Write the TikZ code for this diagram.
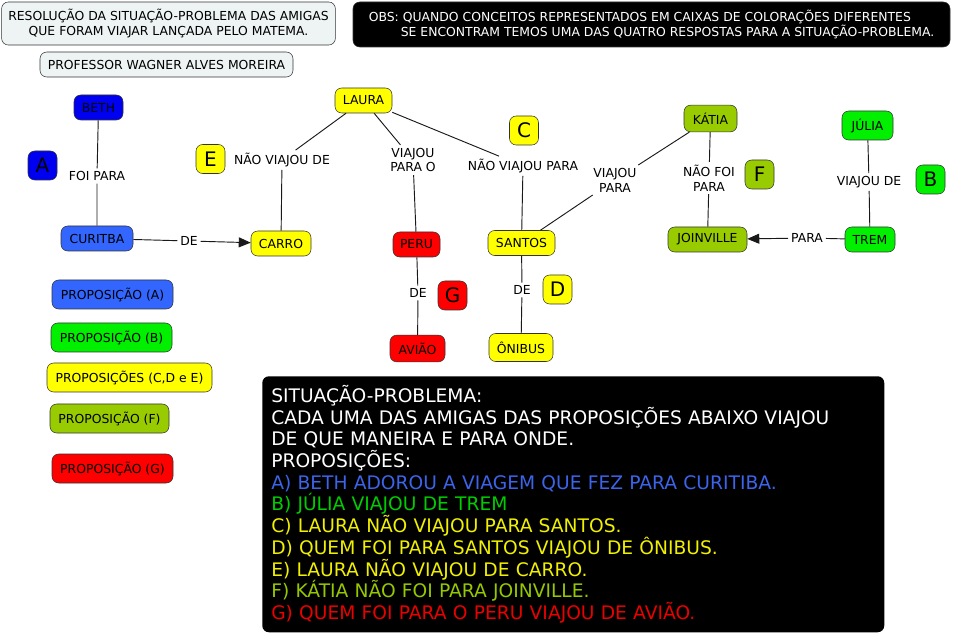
\documentclass[tikz,border=0pt]{standalone}
\usepackage{fontspec}
\setmainfont{DejaVu Sans}
\usetikzlibrary{arrows.meta, positioning}
\definecolor{azul}{RGB}{0,0,240}
\definecolor{azulclaro}{RGB}{51,102,255}
\definecolor{amarelo}{RGB}{255,255,0}
\definecolor{vermelho}{RGB}{255,0,0}
\definecolor{verde}{RGB}{0,240,0}
\definecolor{oliva}{RGB}{153,204,0}
\definecolor{cinza}{RGB}{238,244,244}
\definecolor{txtazul}{RGB}{60,100,235}
\definecolor{txtverde}{RGB}{0,205,0}
\definecolor{txtamarelo}{RGB}{240,240,0}
\definecolor{txtoliva}{RGB}{150,200,0}
\definecolor{txtvermelho}{RGB}{235,0,0}

\begin{document}
\begin{tikzpicture}[x=0.75pt,y=-0.75pt,
  caixa/.style={draw=black!80, rounded corners=5pt, minimum height=18.75pt, inner xsep=5pt, inner ysep=0pt, font=\fontsize{9.3}{11.2}\selectfont},
  letra/.style={caixa, minimum width=21.75pt, minimum height=21.75pt, inner sep=0pt, font=\fontsize{15}{16}\selectfont},
  legenda/.style={caixa, minimum height=21.75pt},
  rotulo/.style={font=\fontsize{9.3}{11.2}\selectfont, align=center, inner sep=2pt},
  ligacao/.style={draw=black!90, line width=0.7pt},
  seta/.style={ligacao, -{Triangle[length=9pt,width=7.5pt]}}]
\useasboundingbox (0,0) rectangle (953,634);

% cabecalho
\node[caixa, fill=cinza, align=center, minimum width=249.75pt, minimum height=32.25pt] (titulo) at (168.5,23.5)
  {RESOLUÇÃO DA SITUAÇÃO-PROBLEMA DAS AMIGAS\\QUE FORAM VIAJAR LANÇADA PELO MATEMA.};
\node[caixa, fill=cinza, minimum width=189.75pt] (prof) at (166.5,64.5) {PROFESSOR WAGNER ALVES MOREIRA};
\node[caixa, fill=black, text=white, align=left, minimum width=447.75pt, minimum height=33.75pt] (obs) at (651.5,24.5)
  {OBS: QUANDO CONCEITOS REPRESENTADOS EM CAIXAS DE COLORAÇÕES DIFERENTES\\
   \hspace*{24pt}SE ENCONTRAM TEMOS UMA DAS QUATRO RESPOSTAS PARA A SITUAÇÃO-PROBLEMA.};

% conceitos
\node[caixa, fill=azul, minimum width=36.75pt] (beth) at (98.5,107.5) {BETH};
\node[caixa, fill=azulclaro, minimum width=54pt] (curitiba) at (97,238.5) {CURITBA};
\node[caixa, fill=amarelo, minimum width=45pt] (carro) at (281,243.5) {CARRO};
\node[caixa, fill=amarelo, minimum width=42.75pt] (laura) at (363.5,100.5) {LAURA};
\node[caixa, fill=vermelho, minimum width=35.25pt] (peru) at (416.5,244.5) {PERU};
\node[caixa, fill=vermelho, minimum width=41.25pt, minimum height=20pt] (aviao) at (417.5,348.5) {AVIÃO};
\node[caixa, fill=amarelo, minimum width=50.25pt] (santos) at (521.5,243) {SANTOS};
\node[caixa, fill=amarelo, minimum width=48pt, minimum height=21pt] (onibus) at (521,347.5) {ÔNIBUS};
\node[caixa, fill=oliva, minimum width=39.75pt, minimum height=20pt] (katia) at (710.5,118.5) {KÁTIA};
\node[caixa, fill=oliva, minimum width=59.25pt] (joinville) at (707.5,239.5) {JOINVILLE};
\node[caixa, fill=verde, minimum width=37.5pt] (trem) at (870,239.5) {TREM};
\node[caixa, fill=verde, minimum width=38.25pt, minimum height=21.75pt] (julia) at (867.5,125.5) {JÚLIA};

% rotulos das ligacoes
\node[rotulo] (foipara) at (97,176) {FOI PARA};
\node[rotulo] (de1) at (189,241) {DE};
\node[rotulo] (naoviajoude) at (282,160) {NÃO VIAJOU DE};
\node[rotulo] (viajouparao) at (413,160) {VIAJOU\\PARA O};
\node[rotulo] (de2) at (418,293) {DE};
\node[rotulo] (naoviajoupara) at (523,166) {NÃO VIAJOU PARA};
\node[rotulo] (de3) at (522,290) {DE};
\node[rotulo] (viajoupara) at (615,180) {VIAJOU\\PARA};
\node[rotulo] (naofoipara) at (709,178) {NÃO FOI\\PARA};
\node[rotulo] (viajoude) at (869,182) {VIAJOU DE};
\node[rotulo] (para) at (807,238) {PARA};

% ligacoes
\draw[ligacao] (beth) -- (foipara) -- (curitiba);
\draw[seta] (curitiba) -- (de1) -- (carro);
\draw[ligacao] (laura) -- (naoviajoude) -- (carro);
\draw[ligacao] (laura) -- (viajouparao) -- (peru);
\draw[ligacao] (laura) -- (naoviajoupara) -- (santos);
\draw[ligacao] (peru) -- (de2) -- (aviao);
\draw[ligacao] (santos) -- (de3) -- (onibus);
\draw[ligacao] (santos) -- (viajoupara) -- (katia);
\draw[ligacao] (katia) -- (naofoipara) -- (joinville);
\draw[ligacao] (julia) -- (viajoude) -- (trem);
\draw[seta] (trem) -- (para) -- (joinville);

% letras das proposicoes
\node[letra, fill=azul] (la) at (42.5,165.5) {A};
\node[letra, fill=amarelo] (le) at (210.5,159) {E};
\node[letra, fill=amarelo] (lc) at (524,130.5) {C};
\node[letra, fill=vermelho] (lg) at (452.5,295.5) {G};
\node[letra, fill=amarelo] (ld) at (557.5,289.5) {D};
\node[letra, fill=oliva] (lf) at (759.5,174.5) {F};
\node[letra, fill=verde] (lb) at (930.5,179.5) {B};

% legenda
\node[legenda, fill=azulclaro, minimum width=90.75pt] (propa) at (112.5,294.5) {PROPOSIÇÃO (A)};
\node[legenda, fill=verde, minimum width=90.75pt] (propb) at (111.5,337.5) {PROPOSIÇÃO (B)};
\node[legenda, fill=amarelo, minimum width=123.75pt] (propcde) at (129.5,377.5) {PROPOSIÇÕES (C,D e E)};
\node[legenda, fill=oliva, minimum width=89.25pt] (propf) at (109.5,418.5) {PROPOSIÇÃO (F)};
\node[legenda, fill=vermelho, minimum width=90.75pt] (propg) at (112.5,468.5) {PROPOSIÇÃO (G)};

% situacao-problema
\node[fill=black, rounded corners=5pt, text=white, anchor=north west, align=left,
  minimum width=466.5pt, minimum height=192pt, text width=453pt, inner xsep=6.75pt, inner ysep=0pt,
  font=\fontsize{14}{16.3}\selectfont] (situacao) at (262,376)
  {SITUAÇÃO-PROBLEMA:\\
   CADA UMA DAS AMIGAS DAS PROPOSIÇÕES ABAIXO VIAJOU\\
   DE QUE MANEIRA E PARA ONDE.\\
   PROPOSIÇÕES:\\
   {\color{txtazul}A) BETH ADOROU A VIAGEM QUE FEZ PARA CURITIBA.}\\
   {\color{txtverde}B) JÚLIA VIAJOU DE TREM}\\
   {\color{txtamarelo}C) LAURA NÃO VIAJOU PARA SANTOS.}\\
   {\color{txtamarelo}D) QUEM FOI PARA SANTOS VIAJOU DE ÔNIBUS.}\\
   {\color{txtamarelo}E) LAURA NÃO VIAJOU DE CARRO.}\\
   {\color{txtoliva}F) KÁTIA NÃO FOI PARA JOINVILLE.}\\
   {\color{txtvermelho}G) QUEM FOI PARA O PERU VIAJOU DE AVIÃO.}};
\end{tikzpicture}
\end{document}
